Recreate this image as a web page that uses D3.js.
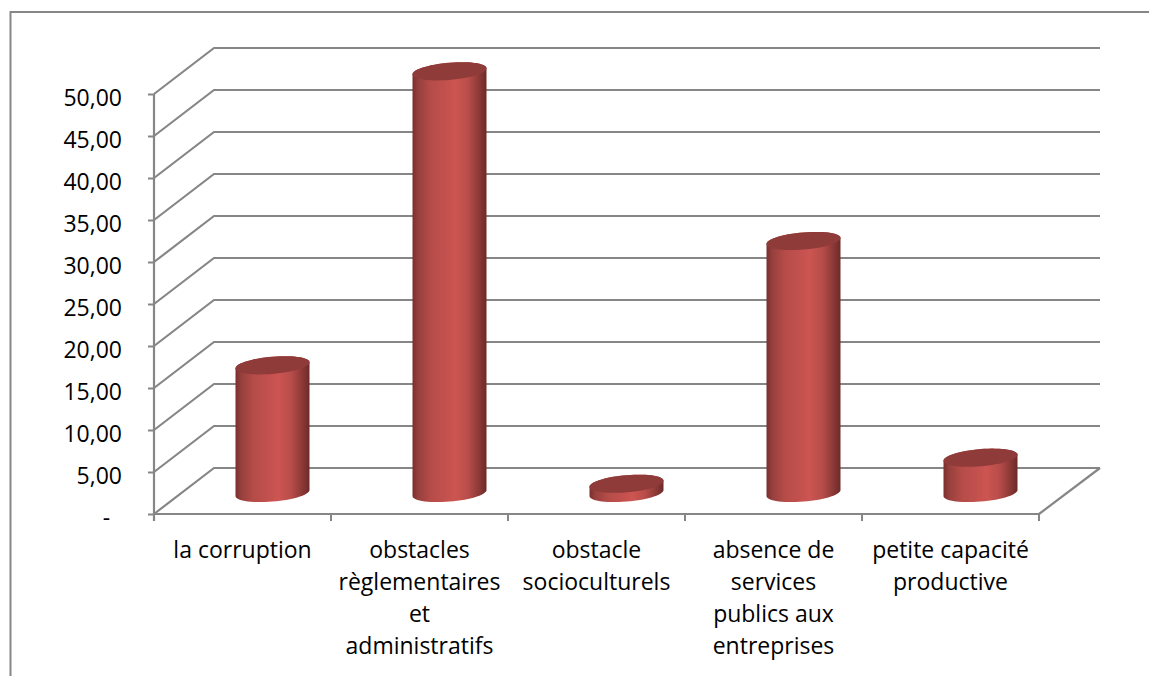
<!DOCTYPE html>
<html><head><meta charset="utf-8">
<script src="https://cdn.jsdelivr.net/npm/d3@7/dist/d3.min.js"></script>
<style>
html,body{margin:0;padding:0;background:#fff;overflow:hidden}
svg{display:block}
text{font-family:"Open Sans",sans-serif;font-size:23px;fill:#000;white-space:pre}
</style></head><body>
<svg id="c" width="1149" height="676"></svg>
<script>
const categories=[["la corruption"],["obstacles","règlementaires","et","administratifs"],["obstacle","socioculturels"],["absence de","services","publics aux","entreprises"],["petite capacité","productive"]];
const values=[15.2,50.2,1.1,30,4.2];
const yTicks=[0,5,10,15,20,25,30,35,40,45,50];
const yTickLabels=["-  ","5,00","10,00","15,00","20,00","25,00","30,00","35,00","40,00","45,00","50,00"];

const grey="#868686", W=1149,H=676;
const svg=d3.select("#c");
const x=d3.scaleBand().domain(d3.range(categories.length)).range([154,1039]);
const y=d3.scaleLinear().domain([0,50]).range([514,94]);
const depthX=60, depthY=46;
const barX=30, barY=21, rx=37, ry=8.6, tilt=3;

// frame
svg.append("path").attr("d",`M10.5,${H}V12H${W}`).attr("fill","none").attr("stroke",grey).attr("stroke-width",2);

// gradient
const defs=svg.append("defs");
const g=defs.append("linearGradient").attr("id","cyl").attr("x1",0).attr("x2",1).attr("y1",0).attr("y2",0);
[[0,"#7a2f2e"],[.08,"#97403d"],[.25,"#b64c49"],[.42,"#c0504d"],[.58,"#cc5551"],[.75,"#b84d4a"],[.9,"#8c3937"],[1,"#6c2a29"]]
 .forEach(d=>g.append("stop").attr("offset",d[0]).attr("stop-color",d[1]));

// walls / gridlines
const grid=svg.append("g").attr("fill","none").attr("stroke",grey).attr("stroke-width",2.2);
grid.selectAll("path.g").data(yTicks).join("path").attr("class","g")
 .attr("d",d=>d3.line()([[x.range()[0],y(d)],[x.range()[0]+depthX,y(d)-depthY],[x.range()[1]+depthX+1,y(d)-depthY]]));
grid.append("path").attr("d",d3.line()([[x.range()[1]+depthX+1,y(0)-depthY],[x.range()[1],y(0)]]));

// axes
const ya=svg.append("g").attr("transform",`translate(${x.range()[0]},0)`)
 .call(d3.axisLeft(y).tickValues(yTicks).tickSize(6).tickPadding(26).tickFormat((d,i)=>yTickLabels[i]));
ya.selectAll("line").attr("stroke",grey).attr("stroke-width",2);
ya.select(".domain").attr("stroke",grey).attr("stroke-width",2.2).attr("d",`M0,${y(50)}V${y(0)+7}`);
ya.selectAll("text").attr("fill","#000").style("font-size","23px").style("font-family",'"Open Sans",sans-serif').attr("dy","0.49em");

const xa=svg.append("g");
xa.append("line").attr("x1",x.range()[0]).attr("x2",x.range()[1]).attr("y1",y(0)).attr("y2",y(0)).attr("stroke",grey).attr("stroke-width",2.2);
xa.selectAll("line.t").data(d3.range(categories.length+1)).join("line").attr("class","t")
 .attr("x1",d=>x.range()[0]+d*x.bandwidth()).attr("x2",d=>x.range()[0]+d*x.bandwidth())
 .attr("y1",y(0)).attr("y2",y(0)+7).attr("stroke",grey).attr("stroke-width",2);

// cylinders
const edge=(cx,cy,from,to)=>d3.range(from,to+(to>from?1:-1)*0.1,(to>from?6:-6)).map(a=>{
  const t=a*Math.PI/180;
  return [cx+rx*Math.cos(t), cy-ry*Math.sin(t)-tilt*Math.cos(t)];
});
const line=d3.line();
const bars=svg.append("g").selectAll("g").data(values).join("g");
bars.each(function(v,i){
  const s=d3.select(this);
  const cx=x(i)+x.bandwidth()/2+barX;
  const top=y(v)-barY, bot=y(0)-barY;
  const side=[...edge(cx,top,0,180),...edge(cx,bot,180,360)];
  s.append("path").attr("d",line(side)+"Z").attr("fill","url(#cyl)");
  s.append("path").attr("d",line(edge(cx,top,0,360))+"Z").attr("fill","#8f3b39");
});

// category labels
const lab=svg.append("g").attr("text-anchor","middle");
categories.forEach((lines,i)=>{
  lines.forEach((t,j)=>{
    lab.append("text").attr("x",x(i)+x.bandwidth()/2).attr("y",558+j*32).text(t);
  });
});
</script>
</body></html>
